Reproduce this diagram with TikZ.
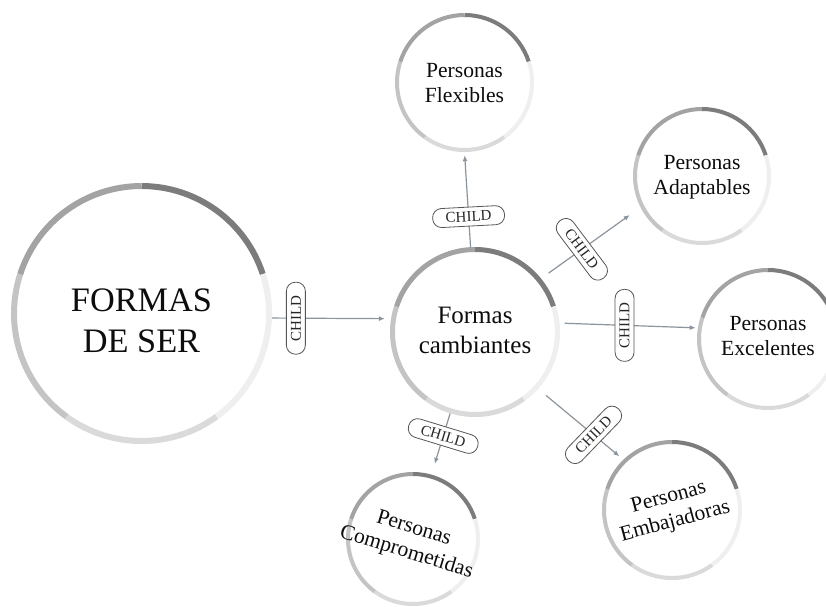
\documentclass[tikz,border=0pt]{standalone}
\usepackage{fontspec}
\setmainfont{Liberation Serif}
\usetikzlibrary{arrows.meta}

% ring segment shades, darkest first (clockwise from the top)
\definecolor{segA}{HTML}{7C7C7C}
\definecolor{segB}{HTML}{EFEFEF}
\definecolor{segC}{HTML}{DADADA}
\definecolor{segD}{HTML}{C4C4C4}
\definecolor{segE}{HTML}{A3A3A3}
\definecolor{linkgray}{HTML}{8C959D}
\definecolor{tagborder}{HTML}{555555}

% five-part ring around a node: #1 node, #2 radius of the ring's centre line, #3 ring width
\newcommand\segring[3]{%
  \foreach \a/\b/\col in {90/18/segA, 18/-54/segB, -54/-126/segC, -126/-198/segD, -198/-270/segE}{%
    \draw[draw=\col, line width=#3pt] (#1.center) ++(\a:#2) arc[start angle=\a, end angle=\b, radius=#2];
  }%
}

\begin{document}
\begin{tikzpicture}[x=1pt, y=1pt,
  disc/.style={circle, inner sep=0pt, fill=white},
  conn/.style={draw=linkgray, line width=1.2pt, -{Latex[length=6pt, width=5pt]}},
  tag/.style={draw=tagborder, line width=0.8pt, fill=white, rounded corners=9pt,
              minimum width=72pt, minimum height=19pt, inner sep=0pt,
              font=\fontsize{15}{15}\selectfont, text=black!85},
  bigtxt/.style={align=center, font=\fontsize{34.3}{41}\selectfont, text=black!95},
  midtxt/.style={align=center, font=\fontsize{25}{30}\selectfont, text=black!95},
  smalltxt/.style={align=center, font=\fontsize{21.6}{25}\selectfont, text=black!95},
]
\useasboundingbox (0,0) rectangle (826,-606);
\fill[white] (0,0) rectangle (826,-606);

% circles
\node[disc, minimum size=261pt] (big)   at (141.5,-313.5) {};
\node[disc, minimum size=170pt] (c)     at (475,-332) {};
\node[disc, minimum size=139pt] (flex)  at (464.5,-82.5) {};
\node[disc, minimum size=138pt] (adapt) at (702,-176) {};
\node[disc, minimum size=142pt] (excel) at (768,-339) {};
\node[disc, minimum size=134pt] (compr) at (413,-539) {};
\node[disc, minimum size=140pt] (emb)   at (672,-510) {};

\segring{big}{127.5}{6}
\segring{c}{82.5}{5}
\segring{flex}{67.5}{4}
\segring{adapt}{67}{4}
\segring{excel}{69}{4}
\segring{compr}{65}{4}
\segring{emb}{68}{4}

% connectors with their tags
\draw[conn, shorten >=6pt] (big.-2) -- (c.171)
  node[tag, pos=0.2, rotate=90] (t1) {CHILD};
\draw[conn, shorten >=3pt] (c.93) -- (flex.-90)
  node[tag, pos=0.32, rotate=3] (t2) {CHILD};
\draw[conn, shorten <=9pt, shorten >=13pt] (c.39) -- (adapt.207)
  node[tag, pos=0.41, rotate=-53] (t3) {CHILD};
\draw[conn, shorten <=5pt, shorten >=2pt] (c.6) -- (excel.171)
  node[tag, pos=0.47, rotate=90] (t4) {CHILD};
\draw[conn, shorten >=11pt] (c.-107) -- (compr.74)
  node[tag, pos=0.37, rotate=-17] (t5) {CHILD};
\draw[conn, shorten <=10pt, shorten >=5pt] (c.-42) -- (emb.134)
  node[tag, pos=0.65, rotate=46] (t6) {CHILD};

% circle texts
\node[bigtxt]   (big-t)   at ([yshift=-7.4pt]big.center) {FORMAS\\DE SER};
\node[midtxt]   (c-t)     at ([yshift=1.8pt]c.center) {Formas\\cambiantes};
\node[smalltxt] (flex-t)  at ([yshift=-1pt]flex.center) {Personas\\Flexibles};
\node[smalltxt] (adapt-t) at ([yshift=-1.7pt]adapt.center) {Personas\\Adaptables};
\node[smalltxt] (excel-t) at ([yshift=3pt]excel.center) {Personas\\Excelentes};
\node[smalltxt, rotate=-17] (compr-t) at ([xshift=-3pt, yshift=-2pt]compr.center) {Personas\\Comprometidas};
\node[smalltxt, rotate=15]  (emb-t)   at (emb) {Personas\\Embajadoras};
\end{tikzpicture}
\end{document}
